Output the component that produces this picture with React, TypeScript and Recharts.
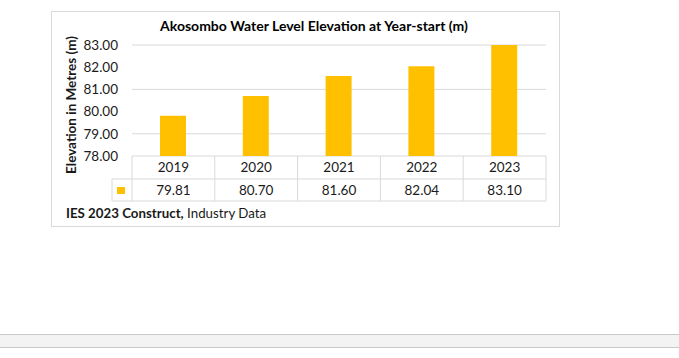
import { Bar, BarChart, CartesianGrid, XAxis, YAxis } from "recharts";

const YEARS = ["2019", "2020", "2021", "2022", "2023"];
const LEVELS = [79.81, 80.7, 81.6, 82.04, 83.1];
const Y_TICKS = [78, 79, 80, 81, 82, 83];

const TITLE = "Akosombo Water Level Elevation at Year-start (m)";
const Y_LABEL = "Elevation in Metres (m)";

const FONT = "Lato, 'Open Sans', sans-serif";
const BAR_COLOR = "#FFC000";
const LINE_COLOR = "#d9d9d9";
const TEXT_COLOR = "#1a1a1a";

// page-space layout of the plot
const PLOT_LEFT = 132;
const PLOT_RIGHT = 546;
const BAND = (PLOT_RIGHT - PLOT_LEFT) / YEARS.length;
const ROW_H = 23;

const rows = YEARS.map((year, i) => ({ year, level: LEVELS[i] }));

function TableTick(props: any) {
  const { x, y, index } = props;
  const half = BAND / 2;
  const left = x - half;
  const right = x + half;
  const bottom = y + ROW_H * 2 - 1;
  return (
    <g>
      <line x1={right} y1={y} x2={right} y2={bottom} stroke={LINE_COLOR} />
      <line x1={left} y1={y + ROW_H} x2={right} y2={y + ROW_H} stroke={LINE_COLOR} />
      <line x1={left} y1={bottom} x2={right} y2={bottom} stroke={LINE_COLOR} />
      {index === 0 && (
        <g>
          <line x1={left} y1={y} x2={left} y2={bottom} stroke={LINE_COLOR} />
          <line x1={left - 20} y1={y + ROW_H} x2={left} y2={y + ROW_H} stroke={LINE_COLOR} />
          <line x1={left - 20} y1={bottom} x2={left} y2={bottom} stroke={LINE_COLOR} />
          <line x1={left - 20} y1={y + ROW_H} x2={left - 20} y2={bottom} stroke={LINE_COLOR} />
          <rect x={left - 15} y={y + ROW_H + 8} width={8} height={7} fill={BAR_COLOR} />
        </g>
      )}
      <text
        x={x}
        y={y + 11}
        textAnchor="middle"
        dominantBaseline="central"
        fontSize={13.5}
        fontFamily={FONT}
        fill={TEXT_COLOR}
      >
        {YEARS[index]}
      </text>
      <text
        x={x}
        y={y + ROW_H + 11}
        textAnchor="middle"
        dominantBaseline="central"
        fontSize={13.5}
        fontFamily={FONT}
        fill={TEXT_COLOR}
      >
        {LEVELS[index].toFixed(2)}
      </text>
    </g>
  );
}

export default function App() {
  return (
    <div
      style={{
        position: "fixed",
        left: 0,
        top: 0,
        width: 679,
        height: 358,
        background: "#fff",
        fontFamily: FONT,
        overflow: "hidden",
      }}
    >
      <div
        style={{
          position: "absolute",
          left: 51,
          top: 11,
          width: 509,
          height: 216,
          border: `1px solid ${LINE_COLOR}`,
          boxSizing: "border-box",
        }}
      />
      <div
        style={{
          position: "absolute",
          left: 314,
          top: 17,
          transform: "translateX(-50%)",
          fontSize: 14,
          fontWeight: 700,
          color: "#000",
          whiteSpace: "nowrap",
        }}
      >
        {TITLE}
      </div>
      <div
        style={{
          position: "absolute",
          left: 71,
          top: 105,
          transform: "translate(-50%, -50%) rotate(-90deg)",
          fontSize: 13.5,
          fontWeight: 700,
          color: TEXT_COLOR,
          whiteSpace: "nowrap",
        }}
      >
        {Y_LABEL}
      </div>
      <div
        style={{
          position: "absolute",
          left: 66,
          top: 205,
          fontSize: 13.3,
          color: TEXT_COLOR,
          whiteSpace: "nowrap",
        }}
      >
        <b>IES 2023 Construct,</b> Industry Data
      </div>
      <div
        style={{
          position: "absolute",
          left: 0,
          top: 334,
          width: 679,
          height: 14,
          background: "#f3f3f3",
          borderTop: "1px solid #c8c8c8",
          borderBottom: "1px solid #c8c8c8",
          boxSizing: "border-box",
        }}
      />
      <div style={{ position: "absolute", left: 0, top: 0 }}>
        <BarChart
          width={679}
          height={358}
          data={rows}
          margin={{ top: 45, right: 679 - PLOT_RIGHT, left: 0, bottom: 156 }}
        >
          <CartesianGrid vertical={false} stroke={LINE_COLOR} />
          <XAxis
            dataKey="year"
            height={46}
            axisLine={false}
            tickLine={false}
            tickSize={0}
            tickMargin={0}
            interval={0}
            tick={<TableTick />}
          />
          <YAxis
            width={PLOT_LEFT}
            domain={[78, 83]}
            ticks={Y_TICKS}
            allowDataOverflow
            axisLine={false}
            tickLine={false}
            tickSize={0}
            tickMargin={14}
            tickFormatter={(v: number) => v.toFixed(2)}
            tick={{ fontSize: 13.5, fontFamily: FONT, fill: TEXT_COLOR }}
          />
          <Bar dataKey="level" fill={BAR_COLOR} barSize={26} isAnimationActive={false} />
        </BarChart>
      </div>
    </div>
  );
}
